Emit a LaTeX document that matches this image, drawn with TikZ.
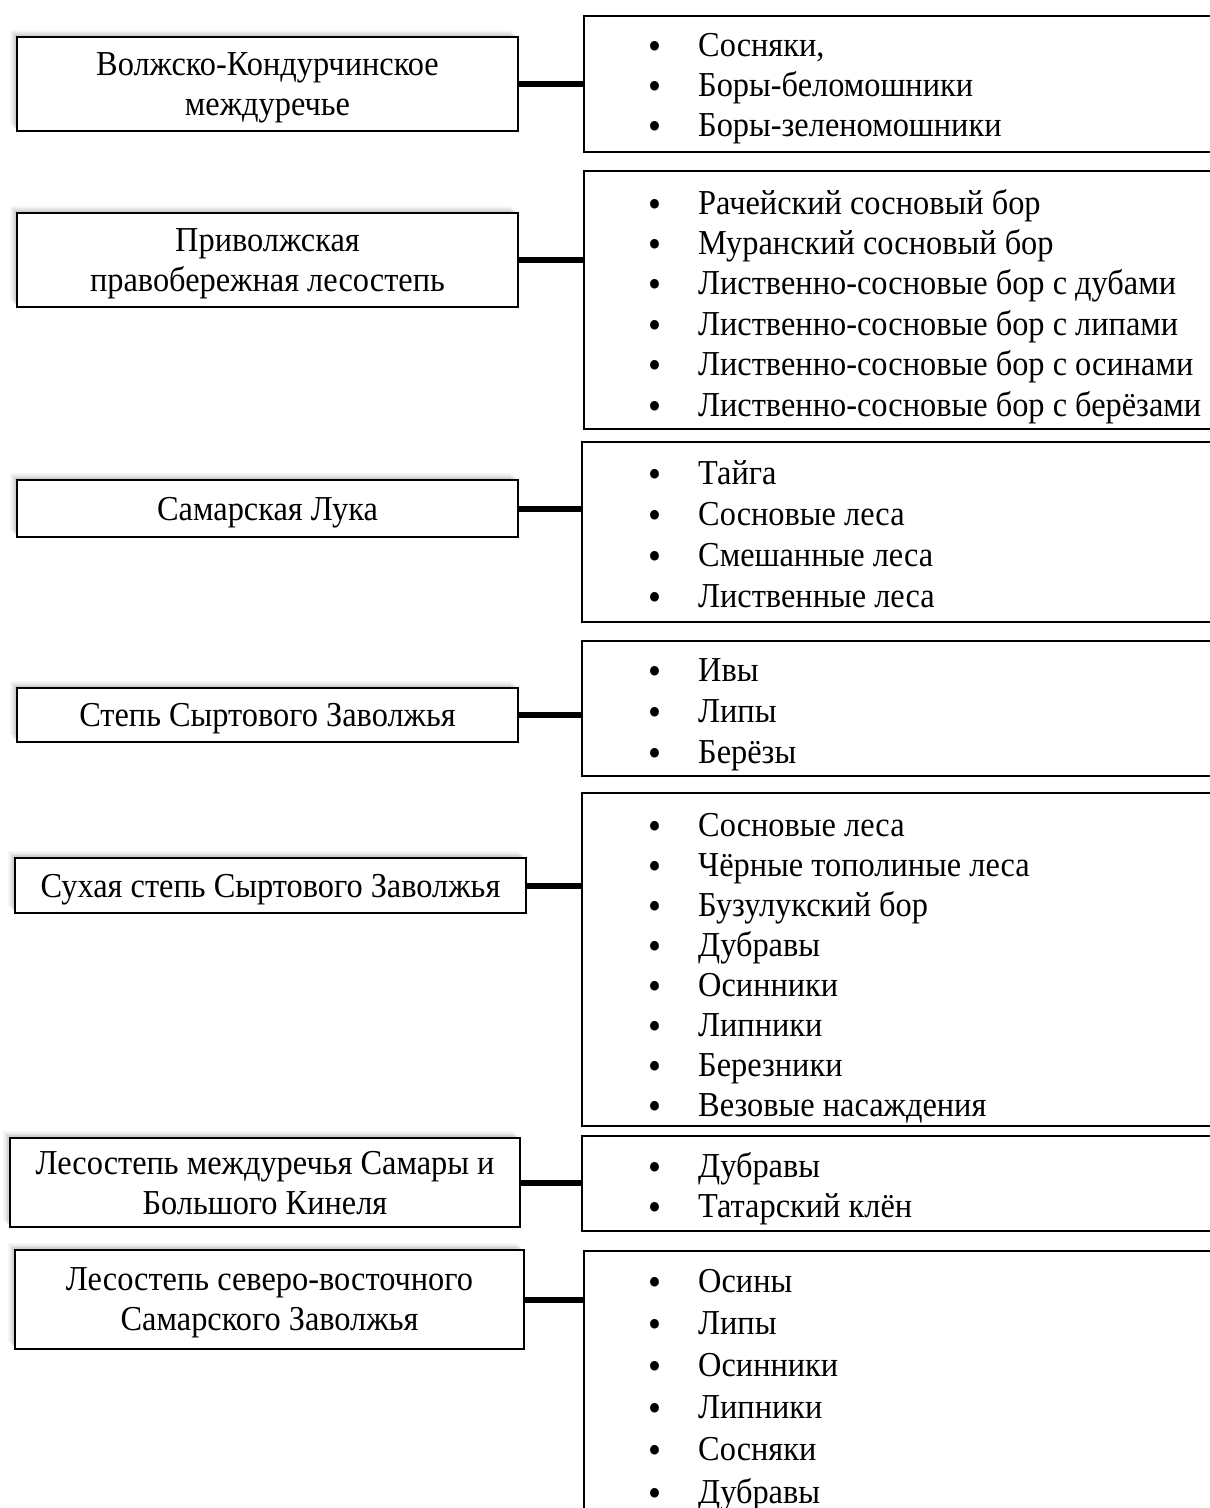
\documentclass[tikz,border=0pt]{standalone}
\usepackage{fontspec}
\setmainfont{Liberation Serif}[FakeStretch=0.925]
\usetikzlibrary{shadows}

\newcommand{\bul}{\makebox[50pt][l]{\smash{\raisebox{-3pt}{\fontsize{40}{40}\selectfont •}}}}

\tikzset{
  zone/.style={draw, line width=1.6pt, fill=white, align=center, inner sep=0pt,
    font=\fontsize{35}{40}\selectfont, text depth=0pt,
    drop shadow={shadow xshift=-7pt, shadow yshift=7pt, opacity=0.08},
    drop shadow={shadow xshift=-5pt, shadow yshift=5pt, opacity=0.12},
    drop shadow={shadow xshift=-3pt, shadow yshift=3pt, opacity=0.2}},
  forest/.style={draw, line width=1.6pt, anchor=north west, inner sep=0pt, minimum width=660pt},
  kind/.style={anchor=base west, inner sep=0pt, font=\fontsize{35}{40}\selectfont},
  link/.style={line width=6pt}
}

\begin{document}
\begin{tikzpicture}[x=1pt, y=-1pt]
\useasboundingbox (0,0) rectangle (1210,1508);

% regions
\node[zone, minimum width=501pt, minimum height=94pt] (volga) at (267.5,84) {Волжско-Кондурчинское\\междуречье};
\node[zone, minimum width=501pt, minimum height=94pt] (privolzh) at (267.5,260) {Приволжская\\правобережная лесостепь};
\node[zone, minimum width=501pt, minimum height=57pt] (luka) at (267.5,508.5) {Самарская Лука};
\node[zone, minimum width=501pt, minimum height=54pt] (syrt) at (267.5,715) {Степь Сыртового Заволжья};
\node[zone, minimum width=511pt, minimum height=55pt] (drysyrt) at (270.5,885.5) {Сухая степь Сыртового Заволжья};
\node[zone, minimum width=510pt, minimum height=89pt] (kinel) at (265,1182.5) {Лесостепь междуречья Самары и\\Большого Кинеля};
\node[zone, minimum width=509pt, minimum height=99pt] (northeast) at (269.5,1299.5) {Лесостепь северо-восточного\\Самарского Заволжья};

% forest lists
\node[forest, minimum height=136pt] (volgaF) at (583,15) {};
\node[forest, minimum height=258pt] (privolzhF) at (583,170) {};
\node[forest, minimum height=180pt] (lukaF) at (581,441) {};
\node[forest, minimum height=135pt] (syrtF) at (581,640) {};
\node[forest, minimum height=333pt] (drysyrtF) at (581,792) {};
\node[forest, minimum height=95pt] (kinelF) at (581,1135) {};
\node[forest, minimum height=300pt] (northeastF) at (583,1250) {};

\foreach \t [count=\i] in {{Сосняки,}, Боры-беломошники, Боры-зеленомошники}
  \node[kind] (volga-\i) at (648, 56+40*\i-40) {\bul\t};
\foreach \t [count=\i] in {Рачейский сосновый бор, Муранский сосновый бор,
    Лиственно-сосновые бор с дубами, Лиственно-сосновые бор с липами,
    Лиственно-сосновые бор с осинами, Лиственно-сосновые бор с берёзами}
  \node[kind] (privolzh-\i) at (648, 214+40.4*\i-40.4) {\bul\t};
\foreach \t [count=\i] in {Тайга, Сосновые леса, Смешанные леса, Лиственные леса}
  \node[kind] (luka-\i) at (648, 484+41*\i-41) {\bul\t};
\foreach \t [count=\i] in {Ивы, Липы, Берёзы}
  \node[kind] (syrt-\i) at (648, 681+41*\i-41) {\bul\t};
\foreach \t [count=\i] in {Сосновые леса, Чёрные тополиные леса, Бузулукский бор,
    Дубравы, Осинники, Липники, Березники, Везовые насаждения}
  \node[kind] (drysyrt-\i) at (648, 836+40*\i-40) {\bul\t};
\foreach \t [count=\i] in {Дубравы, Татарский клён}
  \node[kind] (kinel-\i) at (648, 1177+40*\i-40) {\bul\t};
\foreach \t [count=\i] in {Осины, Липы, Осинники, Липники, Сосняки, Дубравы}
  \node[kind] (northeast-\i) at (648, 1292+42.2*\i-42.2) {\bul\t};

% links
\foreach \r in {volga, privolzh, luka, syrt, drysyrt, kinel, northeast}
  \draw[link] (\r.east) -- (\r.east -| \r F.west);
\end{tikzpicture}
\end{document}
